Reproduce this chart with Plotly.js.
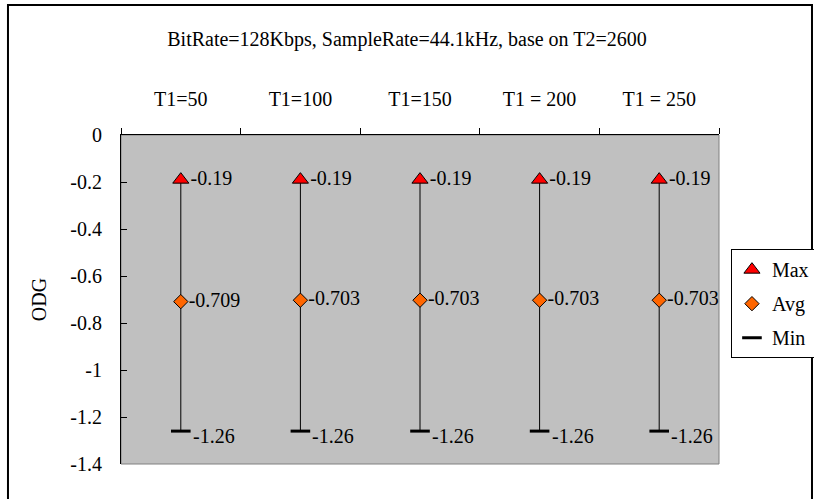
<!DOCTYPE html>
<html>
<head>
<meta charset="utf-8">
<script src="https://cdn.plot.ly/plotly-3.0.1.min.js"></script>
<style>html,body{margin:0;padding:0;background:#fff;}#chart{width:814px;height:499px;}</style>
</head>
<body>
<div id="chart"></div>
<script>
var categories = ["T1=50", "T1=100", "T1=150", "T1 = 200", "T1 = 250"];
var maxValues = [-0.19, -0.19, -0.19, -0.19, -0.19];
var avgValues = [-0.709, -0.703, -0.703, -0.703, -0.703];
var minValues = [-1.26, -1.26, -1.26, -1.26, -1.26];
var yTickVals = [0, -0.2, -0.4, -0.6, -0.8, -1, -1.2, -1.4];
var yTickText = ["0", "-0.2", "-0.4", "-0.6", "-0.8", "-1", "-1.2", "-1.4"];

var FONT = "Liberation Serif";
var FS = 20;
var TXT = "black";

var lineX = [], lineY = [];
categories.forEach(function (c, i) {
  lineX.push(c, c, null);
  lineY.push(maxValues[i], minValues[i], null);
});

function labels(arr) { return arr.map(function (v) { return String(v); }); }

var traces = [
  {
    x: lineX, y: lineY, type: "scatter", mode: "lines",
    line: {color: "black", width: 1}, showlegend: false, hoverinfo: "skip"
  },
  {
    name: "Max", legendgroup: "a", x: categories, y: maxValues, type: "scatter", mode: "markers+text",
    text: labels(maxValues), textposition: "middle right",
    textfont: {family: FONT, size: FS, color: TXT},
    marker: {symbol: "triangle-up", size: 14, color: "#FF0000", line: {color: "black", width: 1}}
  },
  {
    name: "Avg", legendgroup: "b", x: categories, y: avgValues, type: "scatter", mode: "markers+text",
    text: labels(avgValues), textposition: "middle right",
    textfont: {family: FONT, size: FS, color: TXT},
    marker: {symbol: "diamond", size: 11, color: "#FF6600", line: {color: "black", width: 1}}
  },
  {
    name: "Min", legendgroup: "c", x: categories, y: minValues, type: "scatter", mode: "markers",
    marker: {symbol: "line-ew", size: 14, color: "black", line: {color: "black", width: 3}}
  }
];

var annotations = categories.map(function (c, i) {
  return {
    x: c, y: minValues[i], xref: "x", yref: "y",
    text: String(minValues[i]), showarrow: false,
    xanchor: "left", yanchor: "middle", xshift: 10, yshift: -5,
    font: {family: FONT, size: FS, color: TXT}
  };
});

var layout = {
  width: 814, height: 499,
  margin: {l: 121, r: 95, t: 135, b: 35, autoexpand: false},
  paper_bgcolor: "white",
  plot_bgcolor: "#C0C0C0",
  font: {family: FONT, size: FS, color: TXT},
  title: {
    text: "BitRate=128Kbps, SampleRate=44.1kHz, base on T2=2600",
    font: {family: FONT, size: FS, color: TXT},
    xref: "container", x: 0.5, xanchor: "center",
    yref: "container", y: 0.922, yanchor: "middle"
  },
  xaxis: {
    type: "category", side: "top",
    categoryorder: "array", categoryarray: categories,
    showline: true, linecolor: "black", linewidth: 1,
    ticks: "outside", tickson: "boundaries", ticklen: 6, tickcolor: "black",
    ticklabelstandoff: 20,
    showgrid: false, zeroline: false,
    tickfont: {family: FONT, size: FS, color: TXT},
    range: [-0.5, 4.5]
  },
  yaxis: {
    range: [-1.4, 0],
    tickvals: yTickVals, ticktext: yTickText,
    showline: true, linecolor: "black", linewidth: 1,
    ticks: "inside", ticklen: 6, tickcolor: "black",
    ticklabelstandoff: 14,
    showgrid: false, zeroline: false,
    tickfont: {family: FONT, size: FS, color: TXT},
    title: {text: "ODG", font: {family: FONT, size: FS, color: TXT}, standoff: 18}
  },
  showlegend: true,
  legend: {
    x: 1.02, xanchor: "left", y: 0.653, yanchor: "top",
    bordercolor: "black", borderwidth: 1, bgcolor: "white",
    font: {family: FONT, size: 20, color: TXT},
    traceorder: "grouped", tracegroupgap: 5, itemwidth: 30
  },
  annotations: annotations,
  shapes: [
    {type: "rect", xref: "paper", yref: "paper", x0: 0, x1: 1, y0: 0, y1: 1,
     line: {color: "#808080", width: 1}, layer: "below"},
    {type: "path", xref: "paper", yref: "paper",
     path: "M -0.189,-0.2 L -0.189,1.395 L 1.1555,1.395 L 1.1555,-0.2",
     line: {color: "black", width: 2}}
  ]
};

Plotly.newPlot("chart", traces, layout, {displayModeBar: false, staticPlot: true});
</script>
</body>
</html>
